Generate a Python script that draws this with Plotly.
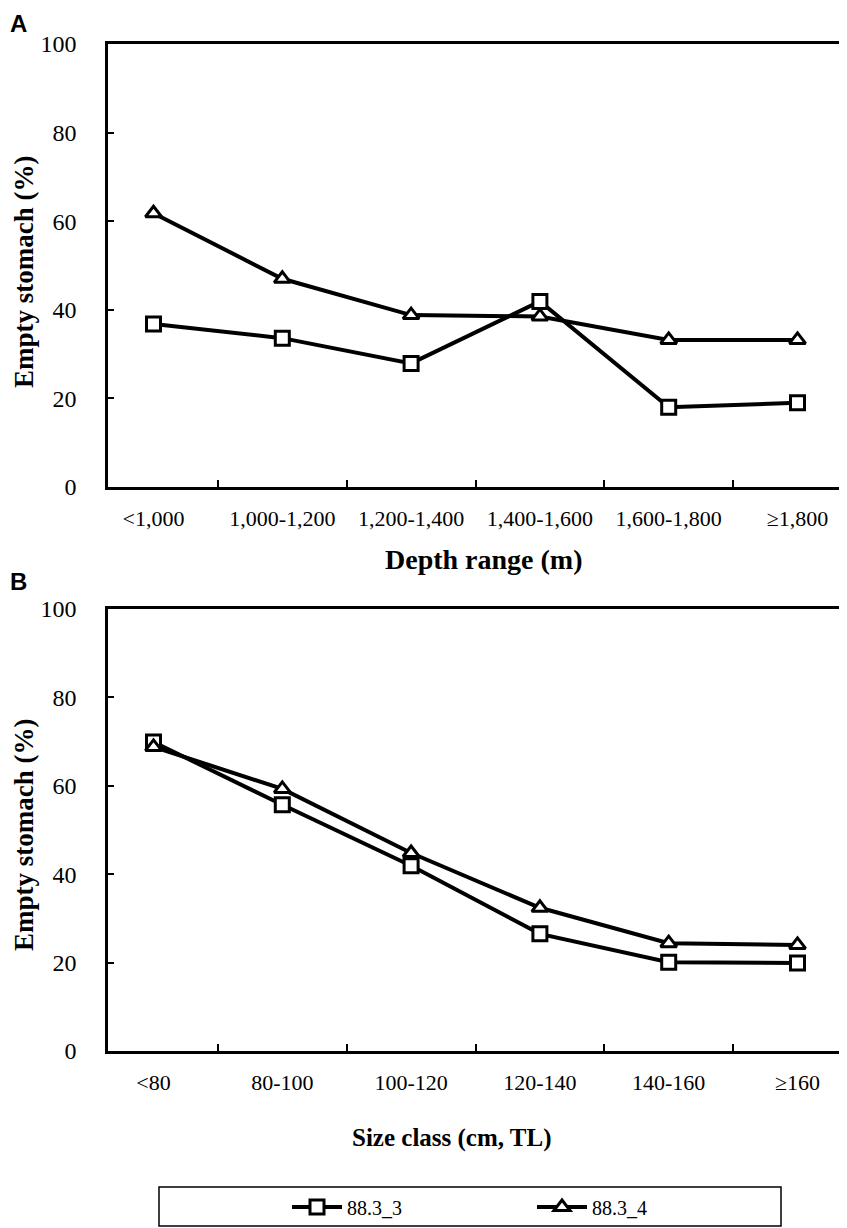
"""Empty stomach (%) by depth range (A) and size class (B), 88.3_3 vs 88.3_4"""
import plotly.graph_objects as go

# the page body has an 8 px margin, so the figure is 8 px smaller on each side
OFFSET = 8
W, H = 847 - OFFSET, 1228 - OFFSET

DEPTH_RANGES = ["<1,000", "1,000-1,200", "1,200-1,400", "1,400-1,600", "1,600-1,800", "≥1,800"]
SIZE_CLASSES = ["<80", "80-100", "100-120", "120-140", "140-160", "≥160"]

DEPTH_88_3_3 = [36.8, 33.6, 27.9, 41.9, 18.0, 19.0]
DEPTH_88_3_4 = [61.8, 47.0, 38.8, 38.5, 33.2, 33.2]
SIZE_88_3_3 = [69.9, 55.7, 41.9, 26.5, 20.1, 19.9]
SIZE_88_3_4 = [68.8, 59.3, 44.8, 32.4, 24.4, 24.0]

Y_TICKS = [0, 20, 40, 60, 80, 100]

SERIF = "Liberation Serif, Times New Roman, serif"
SANS = "Liberation Sans, Arial, sans-serif"


def px_x(v):
    return max(v - OFFSET, 0) / W


def px_y(v):
    return 1 - max(v - OFFSET, 0) / H


line_style = dict(color="black", width=4)
square = dict(symbol="square", size=14, color="white", line=dict(color="black", width=3))
triangle = dict(symbol="triangle-up", size=14, color="white", line=dict(color="black", width=3))

fig = go.Figure()
fig.add_trace(go.Scatter(x=DEPTH_RANGES, y=DEPTH_88_3_3, mode="lines+markers", name="88.3_3",
                         line=line_style, marker=square, xaxis="x", yaxis="y"))
fig.add_trace(go.Scatter(x=DEPTH_RANGES, y=DEPTH_88_3_4, mode="lines+markers", name="88.3_4",
                         line=line_style, marker=triangle, xaxis="x", yaxis="y"))
fig.add_trace(go.Scatter(x=SIZE_CLASSES, y=SIZE_88_3_3, mode="lines+markers", name="88.3_3",
                         line=line_style, marker=square, xaxis="x2", yaxis="y2", showlegend=False))
fig.add_trace(go.Scatter(x=SIZE_CLASSES, y=SIZE_88_3_4, mode="lines+markers", name="88.3_4",
                         line=line_style, marker=triangle, xaxis="x2", yaxis="y2", showlegend=False))

xdom = [px_x(108), px_x(843)]
xaxis_common = dict(
    domain=xdom, type="category", showline=True, linecolor="black", linewidth=2.5, mirror=True,
    ticks="inside", tickson="boundaries", ticklen=7, tickwidth=2, tickcolor="black",
    showgrid=False, zeroline=False, ticklabelstandoff=10, tickangle=0, automargin=False,
    tickfont=dict(family=SERIF, size=22, color="black"),
)
yaxis_common = dict(
    range=[0, 100], tickvals=Y_TICKS, showline=True, linecolor="black", linewidth=2.5, mirror=True,
    ticks="inside", ticklen=6, tickwidth=2, tickcolor="black",
    showgrid=False, zeroline=False, ticklabelstandoff=24, automargin=False,
    tickfont=dict(family=SERIF, size=24, color="black"),
)

fig.update_layout(
    width=W, height=H, autosize=False,
    margin=dict(l=0, r=0, t=0, b=0, pad=0, autoexpand=False),
    plot_bgcolor="white", paper_bgcolor="white",
    xaxis=dict(xaxis_common, anchor="y"),
    yaxis=dict(yaxis_common, domain=[px_y(487), px_y(44)], anchor="x"),
    xaxis2=dict(xaxis_common, anchor="y2"),
    yaxis2=dict(yaxis_common, domain=[px_y(1051), px_y(609)], anchor="x2"),
    showlegend=True,
    legend=dict(
        orientation="h", x=px_x(287), xanchor="left", y=px_y(1207), yanchor="middle",
        itemwidth=50, entrywidth=180, entrywidthmode="pixels",
        font=dict(family=SERIF, size=20, color="black"),
        bgcolor="rgba(0,0,0,0)", borderwidth=0,
    ),
    shapes=[dict(type="rect", xref="paper", yref="paper",
                 x0=px_x(159), x1=px_x(781), y0=px_y(1226), y1=px_y(1187),
                 line=dict(color="black", width=1.5))],
)

title_font = dict(family=SERIF, size=27, color="black", weight="bold")
annotations = [
    dict(text="A", x=0, y=px_y(2), xanchor="left", yanchor="top",
         font=dict(family=SANS, size=24, color="black", weight="bold")),
    dict(text="B", x=0, y=px_y(566), xanchor="left", yanchor="top",
         font=dict(family=SANS, size=24, color="black", weight="bold")),
    dict(text="Empty stomach (%)", x=px_x(24), y=px_y(272), textangle=-90,
         xanchor="center", yanchor="middle", font=title_font),
    dict(text="Empty stomach (%)", x=px_x(24), y=px_y(835), textangle=-90,
         xanchor="center", yanchor="middle", font=title_font),
    dict(text="Depth range (m)", x=px_x(484), y=px_y(560), xanchor="center", yanchor="middle",
         font=dict(title_font, size=28)),
    dict(text="Size class (cm, TL)", x=px_x(452), y=px_y(1138), xanchor="center", yanchor="middle",
         font=dict(title_font, size=25)),
]
for a in annotations:
    a.update(xref="paper", yref="paper", showarrow=False)
fig.update_layout(annotations=annotations)

fig.write_html("out.html")
